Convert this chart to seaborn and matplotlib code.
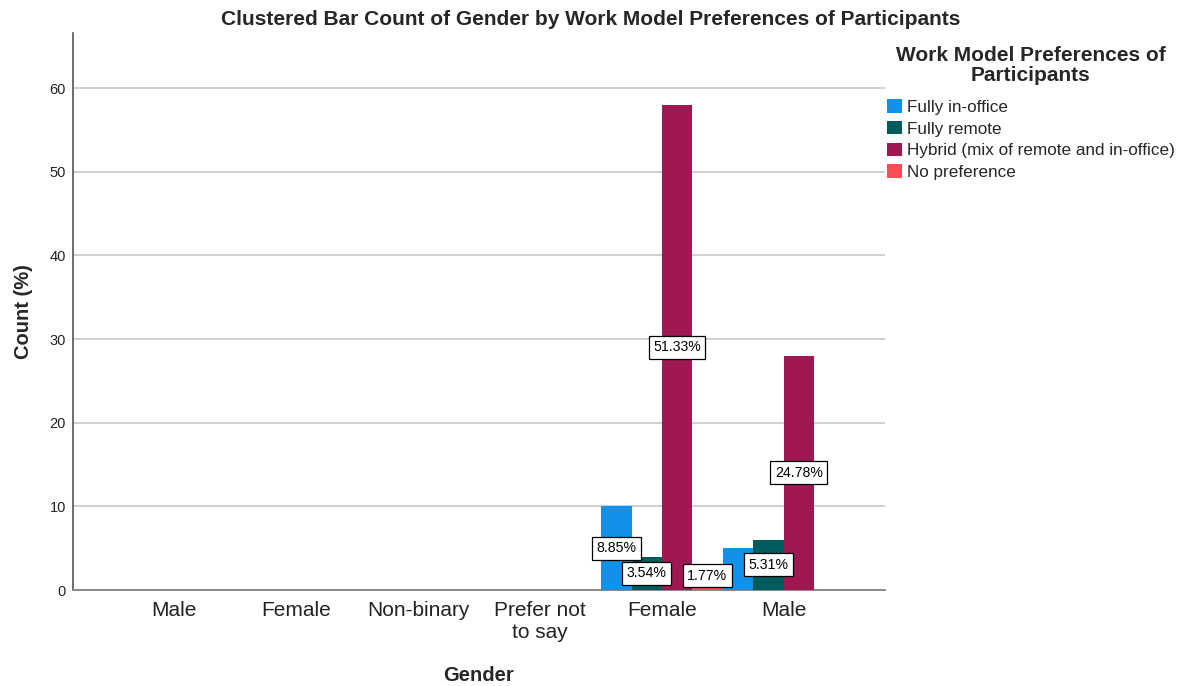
import matplotlib
matplotlib.use("Agg")
import matplotlib.pyplot as plt
from matplotlib.patches import Patch
import seaborn as sns
import pandas as pd
import numpy as np

# Gender groups as they appear along the x axis
gender_labels = ["Male", "Female", "Non-binary", "Prefer not\nto say", "Female", "Male"]
preferences = ["Fully in-office", "Fully remote",
               "Hybrid (mix of remote and in-office)", "No preference"]

# Counts per gender group for each work model preference
fully_in_office = [0, 0, 0, 0, 10, 5]
fully_remote = [0, 0, 0, 0, 4, 6]
hybrid = [0, 0, 0, 0, 58, 28]
no_preference = [0, 0, 0, 0, 2, 0]

palette = ["#1192E8", "#005C5C", "#9F1853", "#FA4D56"]

series = [fully_in_office, fully_remote, hybrid, no_preference]
total = sum(sum(s) for s in series)

rows = []
for pref, vals in zip(preferences, series):
    for gi, v in enumerate(vals):
        rows.append({"group": gi, "Preference": pref, "Count": v})
df = pd.DataFrame(rows)

sns.set_theme(style="white")
plt.rcParams["font.family"] = ["Liberation Sans", "DejaVu Sans"]

fig = plt.figure(figsize=(11.81, 6.86), dpi=100)
ax = fig.add_axes([73 / 1181, 1 - 590 / 686, (885 - 73) / 1181, (590 - 33) / 686])

sns.barplot(data=df, x="group", y="Count", hue="Preference",
            hue_order=preferences, palette=palette, width=0.995,
            dodge=True, saturation=1, linewidth=0, legend=False, ax=ax,
            zorder=3)

ax.set_xlim(-0.83, 5.83)
ax.set_ylim(0, 66.6)
ax.set_yticks(np.arange(0, 61, 10))
ax.yaxis.grid(True, color="#CFCFCF", linewidth=1.4, zorder=0)
ax.xaxis.grid(False)
ax.set_axisbelow(True)
ax.set_xticks(range(len(gender_labels)))
ax.set_xticklabels(gender_labels, fontsize=15, color="#222222", linespacing=1.2)
ax.tick_params(axis="y", labelsize=10.5, length=0, pad=5, colors="#222222")
ax.tick_params(axis="x", length=0, pad=8)

for side in ["top", "right"]:
    ax.spines[side].set_visible(False)
ax.spines["left"].set_color("#555555")
ax.spines["bottom"].set_color("#888888")
ax.spines["left"].set_linewidth(1.2)
ax.spines["bottom"].set_linewidth(1.4)

ax.set_xlabel("Gender", fontsize=14.5, fontweight="bold", labelpad=17)
ax.set_ylabel("Count (%)", fontsize=14.5, fontweight="bold", labelpad=12)

# Percentage labels, centred in each bar; the label for a bar whose tag
# would collide with its neighbour is left out
hidden = {(0, 5)}
n_pref = len(preferences)
slot = 0.995 / n_pref
for pi, vals in enumerate(series):
    for gi, v in enumerate(vals):
        if v == 0 or (pi, gi) in hidden:
            continue
        x = gi - 0.995 / 2 + slot * (pi + 0.5)
        y = max(v / 2, 1.7)
        ax.text(x, y, f"{v / total * 100:.2f}%", ha="center", va="center",
                fontsize=10.2, color="black", zorder=5,
                bbox=dict(boxstyle="square,pad=0.32", facecolor="white",
                          edgecolor="black", linewidth=0.9))

handles = [Patch(facecolor=c, edgecolor="none") for c in palette]
leg = fig.legend(handles, preferences, loc="upper left",
                 bbox_to_anchor=(887 / 1181, 1 - 46 / 686),
                 frameon=False, fontsize=12.3, title="Work Model Preferences of\nParticipants",
                 title_fontproperties={"weight": "bold", "size": 15},
                 handlelength=0.85, handleheight=0.85, handletextpad=0.3,
                 labelspacing=0.35, borderpad=0, borderaxespad=0, alignment="center")
leg.get_title().set_linespacing(1.08)
leg.get_title().set_multialignment("center")
leg._legend_box.sep = 10

fig.suptitle("Clustered Bar Count of Gender by Work Model Preferences of Participants",
             x=0.5, y=1 - 10 / 686, va="top", fontsize=15, fontweight="bold")

fig.savefig("out.png", dpi=100, facecolor="white")
